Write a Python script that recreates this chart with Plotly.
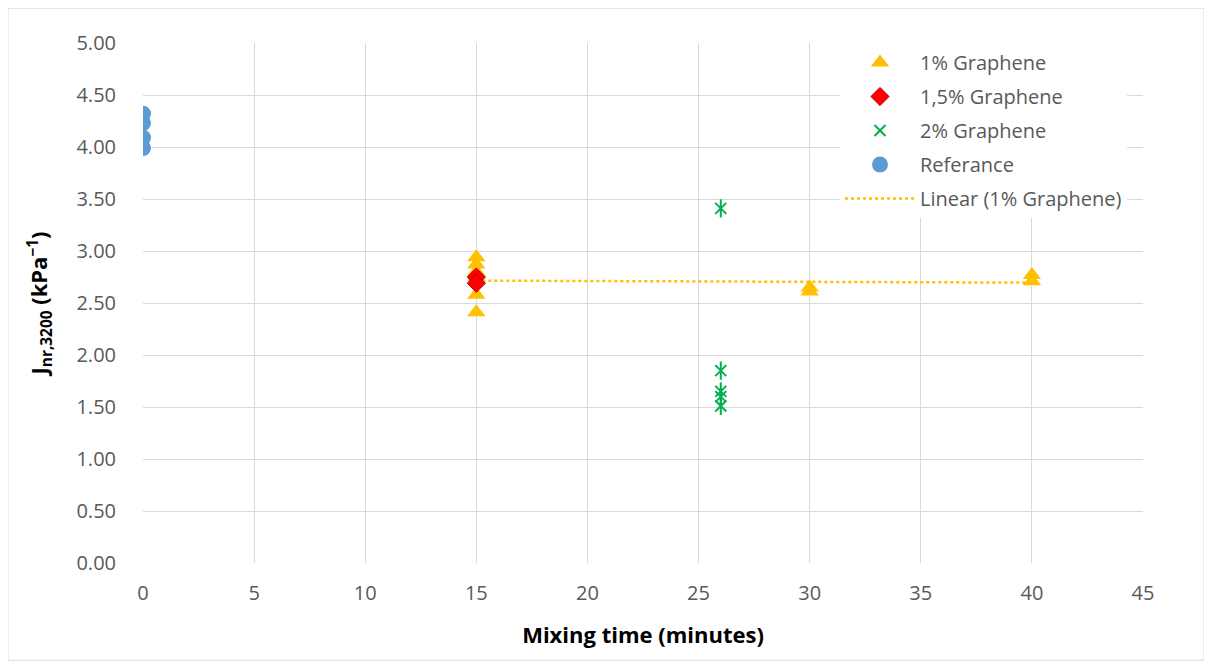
import numpy as np
import plotly.graph_objects as go

# ---- data ----
ref_x = [0, 0, 0, 0]
ref_y = [4.32, 4.23, 4.09, 3.99]

g1_x = [15, 15, 15, 15, 15, 15, 30, 30, 40, 40]
g1_y = [2.94, 2.87, 2.80, 2.75, 2.58, 2.41, 2.65, 2.61, 2.77, 2.71]

g15_x = [15, 15]
g15_y = [2.75, 2.69]

g2_x = [26, 26, 26, 26, 26]
g2_y = [3.41, 1.85, 1.65, 1.60, 1.51]

x_ticks = [0, 5, 10, 15, 20, 25, 30, 35, 40, 45]
y_ticks = [0, 0.5, 1.0, 1.5, 2.0, 2.5, 3.0, 3.5, 4.0, 4.5, 5.0]

# linear trend for 1% Graphene
slope, intercept = np.polyfit(g1_x, g1_y, 1)
trend_x = [min(g1_x), max(g1_x)]
trend_y = [slope * v + intercept for v in trend_x]

FONT = "Open Sans"
TXT = "#595959"

fig = go.Figure()

fig.add_trace(go.Scatter(
    x=trend_x, y=trend_y, mode="lines", name="Linear (1% Graphene)",
    line=dict(color="#FFC000", width=2.5, dash="dot"),
    legendgroup="e", legendrank=5, hoverinfo="skip"))

fig.add_trace(go.Scatter(
    x=g1_x, y=g1_y, mode="markers", name="1% Graphene",
    marker=dict(symbol="triangle-up", size=16, color="#FFC000"),
    legendgroup="a", legendrank=1))

fig.add_trace(go.Scatter(
    x=g15_x, y=g15_y, mode="markers", name="1,5% Graphene",
    marker=dict(symbol="diamond", size=14, color="#FF0000",
                line=dict(color="#C00000", width=1)),
    legendgroup="b", legendrank=2))

fig.add_trace(go.Scatter(
    x=g2_x, y=g2_y, mode="markers", name="2% Graphene",
    marker=dict(symbol="x-thin-open", size=11, color="#00B050",
                line=dict(color="#00B050", width=2)),
    legendgroup="c", legendrank=3))
fig.add_trace(go.Scatter(
    x=g2_x, y=g2_y, mode="markers", name="2% Graphene", showlegend=False,
    marker=dict(symbol="line-ns-open", size=13, color="#00B050",
                line=dict(color="#00B050", width=2)),
    legendgroup="c"))

fig.add_trace(go.Scatter(
    x=ref_x, y=ref_y, mode="markers", name="Referance",
    marker=dict(symbol="circle", size=16, color="#5B9BD5"),
    legendgroup="d", legendrank=4))

fig.update_layout(
    width=1212, height=666,
    margin=dict(l=135, r=77, t=35, b=111),
    paper_bgcolor="white", plot_bgcolor="white",
    font=dict(family=FONT, color=TXT, size=20),
    showlegend=True,
    legend=dict(
        x=0.697, y=1.0, xanchor="left", yanchor="top",
        bgcolor="white", borderwidth=0,
        font=dict(family=FONT, size=20, color=TXT),
        itemwidth=70, tracegroupgap=5, traceorder="grouped",
    ),
)

fig.update_xaxes(
    range=[0, 45], tickvals=x_ticks, ticktext=[str(v) for v in x_ticks],
    showgrid=True, gridcolor="#D9D9D9", gridwidth=1.3,
    zeroline=False, showline=False,
    ticks="outside", ticklen=12, tickcolor="rgba(0,0,0,0)",
    tickfont=dict(family=FONT, size=20, color=TXT),
    title=dict(text="<b>Mixing time (minutes)</b>", standoff=22,
               font=dict(family=FONT, size=22, color="#000000")),
)
fig.update_yaxes(
    range=[0, 5], tickvals=y_ticks, ticktext=[f"{v:.2f}" for v in y_ticks],
    showgrid=True, gridcolor="#D9D9D9", gridwidth=1.3,
    zeroline=False, showline=False,
    ticks="outside", ticklen=22, tickcolor="rgba(0,0,0,0)",
    tickfont=dict(family=FONT, size=20, color=TXT),
    title=dict(text="<b>J<sub>nr,3200</sub> (kPa<sup>−1</sup>)</b>", standoff=22,
               font=dict(family=FONT, size=22, color="#000000")),
)

# outer chart border
fig.add_shape(type="rect", xref="paper", yref="paper",
              x0=-0.135, x1=1.061, y0=-0.187, y1=1.067,
              line=dict(color="#D9D9D9", width=1), layer="below")

fig.write_html("out.html")
